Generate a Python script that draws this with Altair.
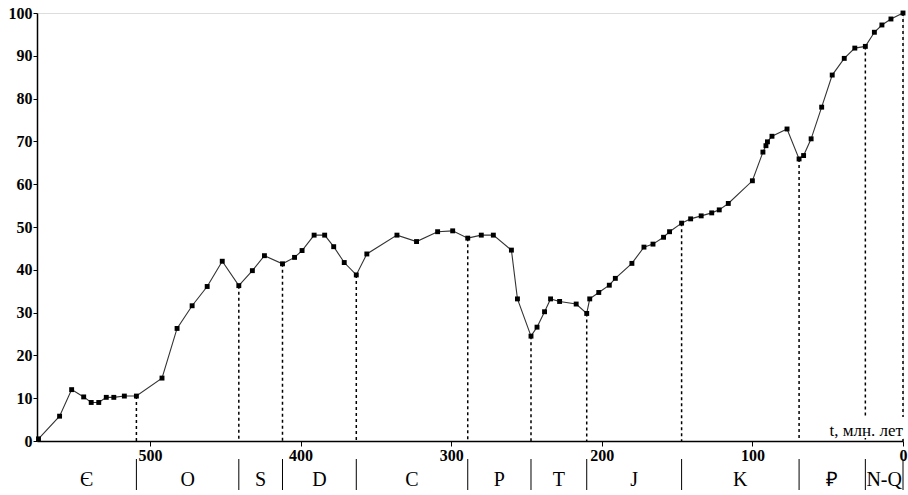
import altair as alt
import numpy as np
import pandas as pd

# Time, million years ago
age = [574, 560, 552, 544, 539, 534, 529, 524, 517, 509,
       492, 482, 472, 462, 452, 441, 432, 424, 412, 404,
       399, 391, 384, 378, 371, 363, 356, 336, 323, 309,
       299, 289, 280, 272, 260, 256, 247, 243, 238, 234,
       228, 217, 210, 208, 202, 195, 191, 180, 172, 166,
       159, 155, 147, 141, 134, 127, 122, 116, 100, 93,
       91, 90, 87, 77, 69, 66, 61, 54, 47, 39,
       32, 25, 19, 14, 8, 0]
# Cumulative value, %
value = [0.5, 5.8, 12.0, 10.3, 9.0, 9.0, 10.2, 10.2, 10.5, 10.5,
         14.7, 26.3, 31.6, 36.1, 42.0, 36.3, 39.8, 43.3, 41.4, 42.9,
         44.5, 48.1, 48.1, 45.4, 41.7, 38.8, 43.7, 48.1, 46.6, 48.9,
         49.1, 47.4, 48.1, 48.1, 44.6, 33.2, 24.5, 26.6, 30.2, 33.2,
         32.6, 32.0, 29.8, 33.2, 34.7, 36.4, 38.0, 41.5, 45.3, 46.0,
         47.6, 48.9, 50.9, 51.9, 52.6, 53.3, 54.0, 55.5, 60.8, 67.5,
         69.0, 69.9, 71.2, 72.9, 65.9, 66.7, 70.6, 78.0, 85.5, 89.4,
         91.8, 92.2, 95.5, 97.2, 98.6, 100.0]

# Period boundaries (Ma) and period symbols
start_age = 575
boundaries = [509, 441, 412, 363, 289, 247, 210, 147, 69, 25, 0]
periods = ["Є", "O", "S", "D", "C", "P", "T", "J", "K", "₽", "N-Q"]

x_ticks = [0, 100, 200, 300, 400, 500]
y_ticks = list(range(0, 101, 10))
x_label = "t, млн. лет"

SERIF = "Liberation Serif"
W, H = 866, 428

series = pd.DataFrame({"t": age, "v": value})

# value of the series at each boundary (boundaries coincide with points)
lookup = dict(zip(age, value))
bounds_df = pd.DataFrame({"t": boundaries, "v": [lookup[b] for b in boundaries]})

edges = [start_age] + boundaries
period_df = pd.DataFrame({
    "mid": [(edges[i] + edges[i + 1]) / 2 for i in range(len(periods))],
    "name": periods,
})

x_scale = alt.Scale(domain=[0, start_age], reverse=True, nice=False, zero=False)
y_scale = alt.Scale(domain=[0, 100], nice=False)

x_axis = alt.Axis(values=x_ticks, title=None, grid=False, labelFont=SERIF,
                  labelFontSize=16, labelFontWeight="bold", labelColor="black",
                  tickSize=5, tickColor="black", domainColor="black",
                  domainWidth=1.5, labelPadding=1, labelFlush=False)
y_axis = alt.Axis(values=y_ticks, title=None, grid=False, labelFont=SERIF,
                  labelFontSize=16, labelFontWeight="bold", labelColor="black",
                  tickSize=4, tickColor="black", domainColor="black",
                  domainWidth=1.5, labelPadding=1)

dashed = alt.Chart(bounds_df).mark_rule(
    color="black", strokeDash=[3, 3], strokeWidth=1.5
).encode(
    x=alt.X("t:Q", scale=x_scale, axis=x_axis),
    y=alt.Y("v:Q", scale=y_scale, axis=y_axis),
    y2=alt.datum(0),
)

line = alt.Chart(series).mark_line(color="#333333", strokeWidth=1.1).encode(
    x=alt.X("t:Q", scale=x_scale),
    y=alt.Y("v:Q", scale=y_scale),
)

points = alt.Chart(series).mark_point(
    shape="square", filled=True, color="black", size=24, opacity=1
).encode(
    x=alt.X("t:Q", scale=x_scale),
    y=alt.Y("v:Q", scale=y_scale),
)

label_df = pd.DataFrame({"label": [x_label]})
label_bg = alt.Chart(label_df).mark_rect(color="white").encode(
    x=alt.value(772), x2=alt.value(868), y=alt.value(404), y2=alt.value(425)
)
label = alt.Chart(label_df).mark_text(
    align="right", baseline="alphabetic", font=SERIF, fontSize=17, color="black"
).encode(x=alt.value(866), y=alt.value(423), text="label:N")

sep = alt.Chart(bounds_df).mark_rule(color="black", strokeWidth=1).encode(
    x=alt.X("t:Q", scale=x_scale), y=alt.value(446), y2=alt.value(477)
)
names = alt.Chart(period_df).mark_text(
    font=SERIF, fontSize=20, color="black", baseline="middle"
).encode(
    x=alt.X("mid:Q", scale=x_scale), y=alt.value(467), text="name:N"
)

chart = alt.layer(dashed, line, points, label_bg, label, sep, names).properties(
    width=W, height=H,
    autosize=alt.AutoSizeParams(type="none"),
    padding={"left": 37, "top": 13, "right": 5, "bottom": 54},
).configure_view(stroke=None).configure(background="white")

chart.save("out.html", embed_options={"renderer": "svg", "actions": False})
